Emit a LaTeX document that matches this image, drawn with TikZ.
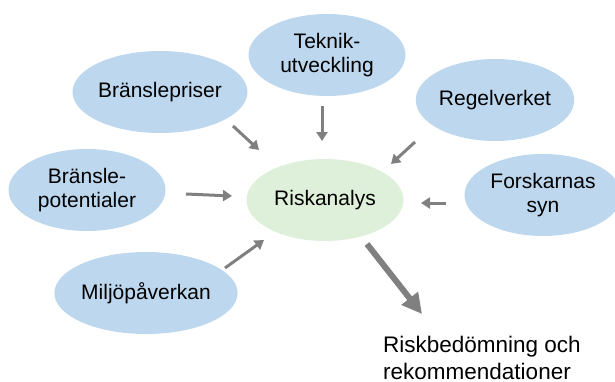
\documentclass[tikz,border=0pt]{standalone}
\usepackage{fontspec}
\setmainfont{Liberation Sans}
\usetikzlibrary{shapes.geometric,arrows.meta}
\definecolor{bluefill}{HTML}{BDD7EE}
\definecolor{greenfill}{HTML}{DEEFDA}
\definecolor{arrowgray}{HTML}{808080}
\begin{document}
\begin{tikzpicture}[x=1pt,y=-1pt,
  bubble/.style={ellipse, fill=bluefill, minimum width=157pt, minimum height=82pt, inner sep=0pt, align=center, font=\fontsize{21}{24.5}\selectfont},
  center/.style={bubble, fill=greenfill},
  flow/.style={draw=arrowgray, line width=3pt, -{Triangle[length=9pt,width=11pt]}},
  bigflow/.style={draw=arrowgray, line width=6pt, -{Triangle[length=20pt,width=20pt]}}]
\useasboundingbox (0,0) rectangle (615,381);
\node[bubble] (tek) at (327,55) {Teknik-\\utveckling};
\node[bubble] (bp) at (160,92) {Bränslepriser};
\node[bubble] (reg) at (495,100) {Regelverket};
\node[bubble] (pot) at (87,190) {Bränsle-\\potentialer};
\node[center] (risk) at (325,200) {Riskanalys};
\node[bubble] (fors) at (543,195) {Forskarnas\\syn};
\node[bubble] (milj) at (146,293) {Miljöpåverkan};
\node[anchor=base west, align=left, inner sep=0pt, font=\fontsize{22.5}{27}\selectfont] (out) at (383,379) {Riskbedömning och\\rekommendationer};
\coordinate (a1s) at (233,126); \coordinate (a1e) at (259,150);
\coordinate (a2s) at (322,106); \coordinate (a2e) at (322,141);
\coordinate (a3s) at (415,142); \coordinate (a3e) at (391,164);
\coordinate (a4s) at (186,194); \coordinate (a4e) at (232,196);
\coordinate (a5s) at (446,203); \coordinate (a5e) at (421,203);
\coordinate (a6s) at (225,268); \coordinate (a6e) at (264,240);
\coordinate (bs) at (367,244); \coordinate (be) at (422,314);
\draw[flow] (a1s) -- (a1e);
\draw[flow] (a2s) -- (a2e);
\draw[flow] (a3s) -- (a3e);
\draw[flow] (a4s) -- (a4e);
\draw[flow] (a5s) -- (a5e);
\draw[flow] (a6s) -- (a6e);
\draw[bigflow] (bs) -- (be);
\end{tikzpicture}
\end{document}
